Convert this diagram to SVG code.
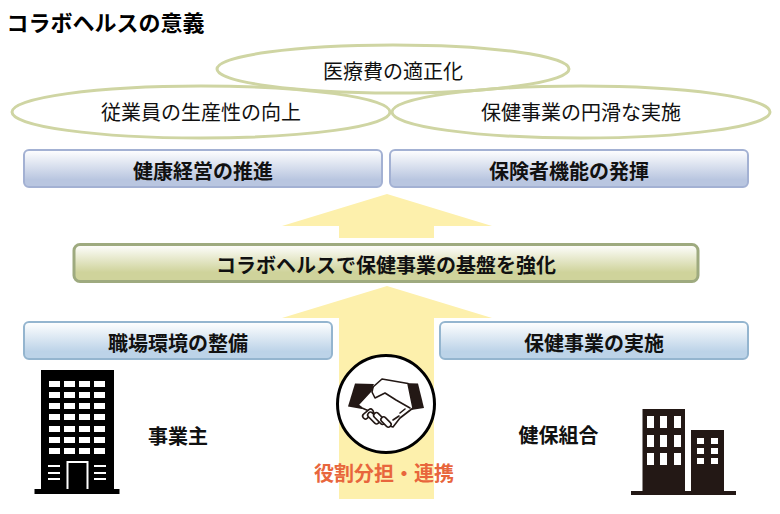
<svg xmlns="http://www.w3.org/2000/svg" width="780" height="514" viewBox="0 0 780 514">
<style>
text{font-family:"Noto Sans CJK JP","Noto Sans CJK SC",sans-serif;fill:#111;text-anchor:middle}
.b{font-weight:700;font-size:20px}
.n{font-size:20px;font-weight:400}
.e{fill:none;stroke:#cfd5a3;stroke-width:3}
.arrow{fill:#fdf0ac}
.blue{fill:url(#gb);stroke:#a3b1d3;stroke-width:2}
.sky{fill:url(#gs);stroke:#94b5cf;stroke-width:2}
.win{fill:#fff}
.dark{fill:#231815}
</style>
<defs>
<linearGradient id="gb" x1="0" y1="0" x2="0" y2="1"><stop offset="0" stop-color="#fff"/><stop offset=".8" stop-color="#b9c6e0"/><stop offset="1" stop-color="#b9c6e0"/></linearGradient>
<linearGradient id="gs" x1="0" y1="0" x2="0" y2="1"><stop offset="0" stop-color="#fff"/><stop offset=".8" stop-color="#bcd3e8"/><stop offset="1" stop-color="#bcd3e8"/></linearGradient>
<linearGradient id="gg" x1="0" y1="0" x2="0" y2="1"><stop offset="0" stop-color="#fff"/><stop offset=".75" stop-color="#cfd39b"/><stop offset="1" stop-color="#cfd39b"/></linearGradient>
</defs>
<rect width="780" height="514" fill="#fff"/>
<text id="title" x="105.500" y="31" class="b" style="font-size:22px;fill:#000">コラボヘルスの意義</text>
<g id="connectors">
<path class="arrow" d="M387 194L492 226H434V238H339V226H282Z"/>
<path class="arrow" d="M387 286L492 318H434V499H339V318H282Z"/>
</g>
<g id="goal-cost"><ellipse class="e" cx="393" cy="69" rx="176" ry="24"/><text class="n" x="393" y="79">医療費の適正化</text></g>
<g id="goal-prod"><ellipse class="e" cx="201" cy="112" rx="189" ry="26"/><text class="n" x="201" y="120">従業員の生産性の向上</text></g>
<g id="goal-smooth"><ellipse class="e" cx="581" cy="112" rx="189" ry="26"/><text class="n" x="581" y="120">保健事業の円滑な実施</text></g>
<g id="box-keiei"><rect class="blue" x="24" y="150" width="358" height="37" rx="5"/><text class="b" x="203" y="178.500">健康経営の推進</text></g>
<g id="box-hoken"><rect class="blue" x="390" y="150" width="358" height="37" rx="5"/><text class="b" x="569" y="178.500">保険者機能の発揮</text></g>
<g id="box-kiban"><rect x="74" y="244.500" width="624" height="37" rx="6" fill="url(#gg)" stroke="#9eaa7f" stroke-width="3"/><text class="b" x="386" y="272.500">コラボヘルスで保健事業の基盤を強化</text></g>
<g id="box-shokuba"><rect class="sky" x="24" y="322" width="308" height="37" rx="5"/><text class="b" x="178" y="350.500">職場環境の整備</text></g>
<g id="box-jisshi"><rect class="sky" x="440" y="322" width="308" height="37" rx="5"/><text class="b" x="594" y="350.500">保健事業の実施</text></g>
<g id="employer">
<path d="M41 370H114V489H119.500V494H34.500V489H41Z" fill="#000"/>
<g class="win">
<rect x="49" y="381" width="11" height="6"/><rect x="64" y="381" width="11" height="6"/><rect x="79" y="381" width="11" height="6"/><rect x="94" y="381" width="11" height="6"/>
<rect x="49" y="392" width="11" height="6"/><rect x="64" y="392" width="11" height="6"/><rect x="79" y="392" width="11" height="6"/><rect x="94" y="392" width="11" height="6"/>
<rect x="49" y="403" width="11" height="6"/><rect x="64" y="403" width="11" height="6"/><rect x="79" y="403" width="11" height="6"/><rect x="94" y="403" width="11" height="6"/>
<rect x="49" y="414" width="11" height="6"/><rect x="64" y="414" width="11" height="6"/><rect x="79" y="414" width="11" height="6"/><rect x="94" y="414" width="11" height="6"/>
<rect x="49" y="426" width="11" height="6"/><rect x="64" y="426" width="11" height="6"/><rect x="79" y="426" width="11" height="6"/><rect x="94" y="426" width="11" height="6"/>
<rect x="49" y="437" width="11" height="6"/><rect x="64" y="437" width="11" height="6"/><rect x="79" y="437" width="11" height="6"/><rect x="94" y="437" width="11" height="6"/>
<rect x="49" y="448" width="11" height="6"/><rect x="64" y="448" width="11" height="6"/><rect x="79" y="448" width="11" height="6"/><rect x="94" y="448" width="11" height="6"/>
<rect x="48" y="465" width="12" height="2"/><rect x="48" y="472" width="12" height="2"/><rect x="48" y="478" width="12" height="2"/>
<rect x="94" y="465" width="12" height="2"/><rect x="94" y="472" width="12" height="2"/><rect x="94" y="478" width="12" height="2"/>
</g>
<path d="M67.500 489V462H87.500V489" fill="none" stroke="#fff" stroke-width="2"/>
<text class="b" x="178" y="444">事業主</text>
</g>
<g id="union">
<path class="dark" d="M642.500 409H685V491H691V430H724V491H736V495H631V491H642.500Z"/>
<g class="win">
<rect x="647" y="416" width="7" height="12"/><rect x="660" y="416" width="7" height="12"/><rect x="674" y="416" width="7" height="12"/>
<rect x="647" y="435" width="7" height="12"/><rect x="660" y="435" width="7" height="12"/><rect x="674" y="435" width="7" height="12"/>
<rect x="647" y="453" width="7" height="12"/><rect x="660" y="453" width="7" height="12"/><rect x="674" y="453" width="7" height="12"/>
<rect x="697" y="438" width="7" height="6"/><rect x="711" y="438" width="7" height="6"/>
<rect x="697" y="448" width="7" height="6"/><rect x="711" y="448" width="7" height="6"/>
<rect x="697" y="458" width="7" height="6"/><rect x="711" y="458" width="7" height="6"/>
</g>
<text class="b" x="558.500" y="443">健保組合</text>
</g>
<g id="partnership">
<circle cx="386" cy="404" r="48.500" fill="#fff" stroke="#000" stroke-width="3"/>
<path class="dark" d="M355 383.500L374 384L362 409L348 406.500Z"/>
<path class="dark" d="M402 383L418 383.500L424 408L411 410Z"/>
<g fill="#fff" stroke="#231815" stroke-width="1.600" stroke-linejoin="round" stroke-linecap="round">
<path d="M373 387L382 379L408 383.500L413 408L400 418L393 427L386 425L376 414L362 408L358 405L370 392Z"/>
<path d="M373 387L372 392L375 398L385 393L396 400L410 408" fill="none"/>
<rect x="-6" y="-2.700" width="12" height="5.400" rx="2.500" transform="translate(368 414) rotate(-40)"/>
<rect x="-7" y="-2.700" width="14" height="5.400" rx="2.500" transform="translate(373.500 418) rotate(45)"/>
<rect x="-7" y="-2.700" width="14" height="5.400" rx="2.500" transform="translate(379.500 418.500) rotate(45)"/>
<rect x="-6" y="-2.700" width="12" height="5.400" rx="2.500" transform="translate(386 422) rotate(45)"/>
<path d="M393 420L399 416M400 413L405 409" fill="none"/>
</g>
</g>
<text id="role" x="384" y="481" style="font-size:20px;font-weight:700;fill:#e8663c">役割分担・連携</text>
</svg>
